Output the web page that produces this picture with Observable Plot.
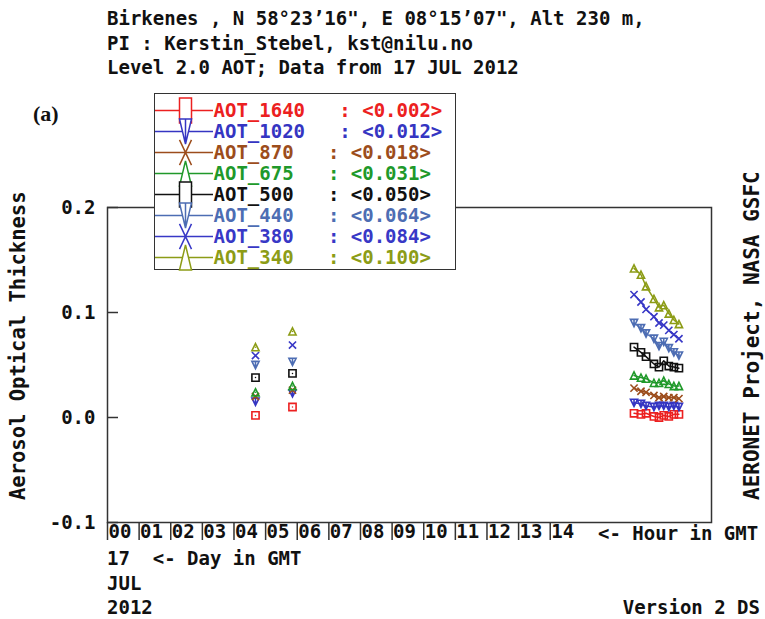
<!DOCTYPE html>
<html>
<head>
<meta charset="utf-8">
<script src="https://cdn.jsdelivr.net/npm/d3@7"></script>
<script src="https://cdn.jsdelivr.net/npm/@observablehq/plot@0.6"></script>
<style>
  body { margin: 0; background: #fff; }
  #chart { position: relative; width: 765px; height: 619px; overflow: hidden;
           font-family: "DejaVu Sans Mono", monospace; font-weight: bold; color: #111; }
  #chart > svg { position: absolute; left: 0; top: 0; }
  .t { position: absolute; white-space: pre; font-size: 19px; line-height: 24.5px; }
  .v { position: absolute; left: 0; top: 0; white-space: pre; font-size: 20.5px; line-height: 20px;
       transform-origin: 0 0; }
  #panel { position: absolute; left: 33px; top: 101px; font-family: "Liberation Serif", serif;
           font-size: 22px; font-weight: bold; }
  #legend { position: absolute; left: 154px; top: 93px; border: 1.5px solid #333; background: #fff; line-height: 0; }
</style>
</head>
<body>
<div id="chart"></div>
<script>
// Series (wavelength channels), colours and legend means
const seriesNames = ["AOT_1640", "AOT_1020", "AOT_870", "AOT_675", "AOT_500", "AOT_440", "AOT_380", "AOT_340"];
const seriesColors = ["#ec2020", "#3535c2", "#9c4d1c", "#20992a", "#111111", "#4d6db3", "#3838c6", "#8c9c16"];
const seriesMeans = ["0.002", "0.012", "0.018", "0.031", "0.050", "0.064", "0.084", "0.100"];

// Observation times (hour of day, GMT) on 17 JUL 2012
const hours = [4.68, 5.85, 16.65, 16.87, 17.03, 17.28, 17.44, 17.59, 17.75, 17.91, 18.07];

// Level 2.0 aerosol optical thickness per channel
const aot1640 = [0.002, 0.010, 0.004, 0.003, 0.004, 0.001, 0.000, 0.002, 0.001, 0.003, 0.003];
const aot1020 = [0.015, 0.023, 0.014, 0.013, 0.011, 0.010, 0.011, 0.011, 0.010, 0.011, 0.010];
const aot870  = [0.020, 0.026, 0.028, 0.025, 0.024, 0.021, 0.019, 0.020, 0.019, 0.019, 0.018];
const aot675  = [0.024, 0.030, 0.040, 0.038, 0.037, 0.033, 0.033, 0.035, 0.032, 0.030, 0.030];
const aot500  = [0.038, 0.042, 0.067, 0.062, 0.058, 0.051, 0.048, 0.054, 0.049, 0.048, 0.047];
const aot440  = [0.050, 0.053, 0.090, 0.085, 0.080, 0.075, 0.068, 0.072, 0.066, 0.062, 0.059];
const aot380  = [0.059, 0.069, 0.117, 0.110, 0.103, 0.096, 0.090, 0.088, 0.083, 0.079, 0.075];
const aot340  = [0.067, 0.082, 0.142, 0.136, 0.125, 0.113, 0.105, 0.107, 0.099, 0.093, 0.089];
const seriesValues = [aot1640, aot1020, aot870, aot675, aot500, aot440, aot380, aot340];

// Axis ticks
const yTicks = [-0.1, 0.0, 0.1, 0.2];
const hourTicks = [0, 1, 2, 3, 4, 5, 6, 7, 8, 9, 10, 11, 12, 13, 14];

// Points more than an hour apart are not joined by a line
const segmentOf = [];
hours.forEach((h, i) => segmentOf.push(i === 0 ? 0 : segmentOf[i - 1] + (h - hours[i - 1] > 1 ? 1 : 0)));

const rows = [];
seriesNames.forEach((name, s) => {
  seriesValues[s].forEach((v, i) => rows.push({series: name, hour: hours[i], aot: v, seg: name + "-" + segmentOf[i]}));
});

// Marker shapes; sx/sy stretch the glyph horizontally/vertically
function shape(kind, sx, sy) {
  return {
    draw(ctx, size) {
      const r = Math.sqrt(size / Math.PI), w = r * sx, h = r * sy;
      if (kind === "square") {
        ctx.moveTo(-w, -h); ctx.lineTo(w, -h); ctx.lineTo(w, h); ctx.lineTo(-w, h); ctx.closePath();
      } else if (kind === "down") {
        ctx.moveTo(-w, -h); ctx.lineTo(w, -h); ctx.lineTo(0, h); ctx.closePath();
        ctx.moveTo(0, -h); ctx.lineTo(0, h);
      } else if (kind === "up") {
        ctx.moveTo(0, -h); ctx.lineTo(w, h); ctx.lineTo(-w, h); ctx.closePath();
      } else {
        ctx.moveTo(-w, -h); ctx.lineTo(w, h); ctx.moveTo(w, -h); ctx.lineTo(-w, h);
      }
    }
  };
}
const shapeKinds = ["square", "down", "x", "up", "square", "down", "x", "up"];
const plotSymbols = shapeKinds.map(k => shape(k, 1, 1));
const legendSymbols = shapeKinds.map(k => shape(k, 1, 2.1));

const font = {fontFamily: "DejaVu Sans Mono, monospace", fontSize: "19px", fontWeight: "bold", background: "transparent", color: "#111", overflow: "visible"};

const chart = Plot.plot({
  width: 765,
  height: 619,
  marginTop: 207,
  marginLeft: 107,
  marginRight: 54,
  marginBottom: 97,
  x: {domain: [0, 19.1]},
  y: {domain: [-0.1, 0.2]},
  color: {domain: seriesNames, range: seriesColors},
  symbol: {domain: seriesNames, range: plotSymbols},
  style: font,
  marks: [
    Plot.axisY({ticks: yTicks, tickSize: 0, tickPadding: 12, tickFormat: d => d.toFixed(1), label: null}),
    Plot.axisY({ticks: yTicks, tickSize: -11, tickFormat: () => "", label: null, stroke: "#333", strokeWidth: 1.5}),
    Plot.axisX({ticks: hourTicks, tickSize: 18, tickFormat: () => "", label: null, stroke: "#333", strokeWidth: 1.5}),
    Plot.axisX({ticks: hourTicks, tickSize: 0, tickPadding: 2, textAnchor: "start", dx: 1,
                tickFormat: d => String(d).padStart(2, "0"), label: null}),
    Plot.frame({stroke: "#333", strokeWidth: 1.5}),
    Plot.line(rows, {x: "hour", y: "aot", z: "seg", stroke: "series", strokeWidth: 1.5}),
    Plot.dot(rows, {x: "hour", y: "aot", stroke: "series", symbol: "series", r: 3.6, fill: "none", strokeWidth: 1.6})
  ]
});

const legend = Plot.plot({
  width: 300,
  height: 175,
  marginTop: 13,
  marginBottom: 10,
  marginLeft: 0,
  marginRight: 0,
  y: {type: "point", domain: seriesNames, padding: 0, axis: null},
  color: {domain: seriesNames, range: seriesColors},
  symbol: {domain: seriesNames, range: legendSymbols},
  style: font,
  marks: [
    Plot.ruleY(seriesNames, {y: d => d, stroke: d => d, insetRight: 242, strokeWidth: 1.5}),
    Plot.dot(seriesNames, {frameAnchor: "left", dx: 30, y: d => d, stroke: d => d, symbol: d => d, r: 6, fill: "white", strokeWidth: 1.5}),
    Plot.text(seriesNames, {
      frameAnchor: "left", dx: 58, y: d => d, fill: d => d, textAnchor: "start",
      text: (d, i) => d + "\u00a0\u00a0\u00a0:\u00a0<" + seriesMeans[i] + ">"
    })
  ]
});

const root = document.getElementById("chart");
root.appendChild(chart);

const box = document.createElement("div");
box.id = "legend";
box.appendChild(legend);
root.appendChild(box);

function addText(cls, text, css) {
  const el = document.createElement("div");
  el.className = cls;
  el.textContent = text;
  Object.assign(el.style, css);
  root.appendChild(el);
  return el;
}

addText("t", "Birkenes , N 58°23’16\", E 08°15’07\", Alt 230 m,\nPI : Kerstin_Stebel, kst@nilu.no\nLevel 2.0 AOT; Data from 17 JUL 2012", {left: "107px", top: "6px"});
addText("t", "<- Hour in GMT", {left: "598px", top: "521px"});
addText("t", "17  <- Day in GMT\nJUL\n2012", {left: "107px", top: "546px"});
addText("t", "Version 2 DS", {right: "5px", top: "595px"});
addText("v", "Aerosol Optical Thickness", {transform: "translate(8px, 500px) rotate(-90deg)"});
addText("v", "AERONET Project, NASA GSFC", {transform: "translate(742px, 500px) rotate(-90deg)", fontSize: "21px"});
const panel = document.createElement("div");
panel.id = "panel";
panel.textContent = "(a)";
root.appendChild(panel);
</script>
</body>
</html>
